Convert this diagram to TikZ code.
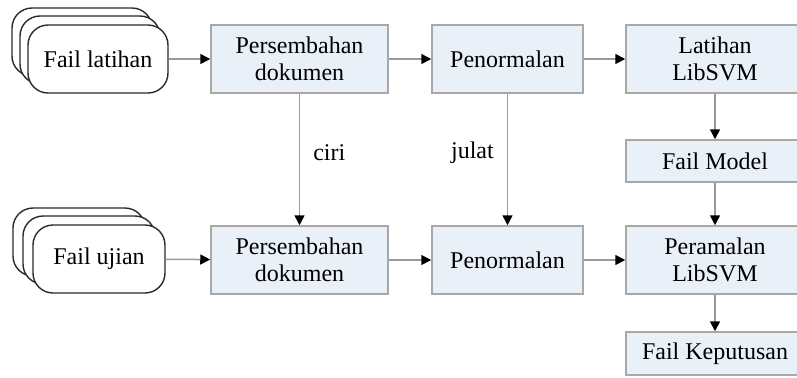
\documentclass[tikz,border=0pt]{standalone}
\usepackage{fontspec}
\setmainfont{Liberation Serif}
\usetikzlibrary{arrows.meta}
\definecolor{boxfill}{HTML}{EAF0F8}
\definecolor{boxborder}{HTML}{A8A8A8}
\definecolor{linegray}{HTML}{9A9A9A}
\definecolor{docline}{HTML}{2A2A2A}
\tikzset{
  box/.style={draw=boxborder, fill=boxfill, line width=0.75pt, align=center, inner sep=0pt,
    font=\fontsize{12}{13.5}\selectfont},
  doc/.style={draw=docline, fill=white, line width=0.7pt, rounded corners=10pt},
  docfront/.style={doc, align=center, inner sep=0pt, font=\fontsize{12}{13.5}\selectfont},
  conn/.style={draw=linegray, line width=0.75pt, -{Triangle[length=5pt,width=5pt,fill=black,color=black]}},
  lbl/.style={font=\fontsize{12}{13.5}\selectfont, inner sep=0pt}
}
\begin{document}
\begin{tikzpicture}[x=0.5pt,y=-0.5pt]
\useasboundingbox (0,0) rectangle (797,377);
% document stacks
\draw[doc] (12,8) rectangle (152,76);
\draw[doc] (20,16) rectangle (160,84);
\node[docfront, minimum width=70pt, minimum height=34pt] (fl) at (98,59) {Fail latihan};
\draw[doc] (13,208) rectangle (145,276);
\draw[doc] (23,216) rectangle (155,284);
\node[docfront, minimum width=66pt, minimum height=34pt] (fu) at (99,259) {Fail ujian};
% boxes
\node[box, minimum width=88.5pt, minimum height=34pt] (p1) at (299.5,59) {Persembahan\\dokumen};
\node[box, minimum width=75.5pt, minimum height=34pt] (n1) at (507.5,59) {Penormalan};
\node[box, minimum width=89pt, minimum height=34pt] (l1) at (715,59) {Latihan\\LibSVM};
\node[box, minimum width=89pt, minimum height=21pt] (fm) at (715,161) {Fail Model};
\node[box, minimum width=88.5pt, minimum height=34pt] (p2) at (299.5,260) {Persembahan\\dokumen};
\node[box, minimum width=75.5pt, minimum height=34pt] (n2) at (507.5,260) {Penormalan};
\node[box, minimum width=89pt, minimum height=34pt] (pr) at (715,260) {Peramalan\\LibSVM};
\node[box, minimum width=89pt, minimum height=21.5pt] (fk) at (715,353.5) {Fail Keputusan};
% connectors
\draw[conn] (fl) -- (p1);
\draw[conn] (p1) -- (n1);
\draw[conn] (n1) -- (l1);
\draw[conn] (l1) -- (fm);
\draw[conn] (fu) -- (p2);
\draw[conn] (p2) -- (n2);
\draw[conn] (n2) -- (pr);
\draw[conn] (fm) -- (pr);
\draw[conn] (pr) -- (fk);
\draw[conn] (p1) -- node[lbl, pos=0.45, right=6.5pt] (ciri) {ciri} (p2);
\draw[conn] (n1) -- node[lbl, pos=0.45, left=6.5pt] (julat) {julat} (n2);
\end{tikzpicture}
\end{document}
